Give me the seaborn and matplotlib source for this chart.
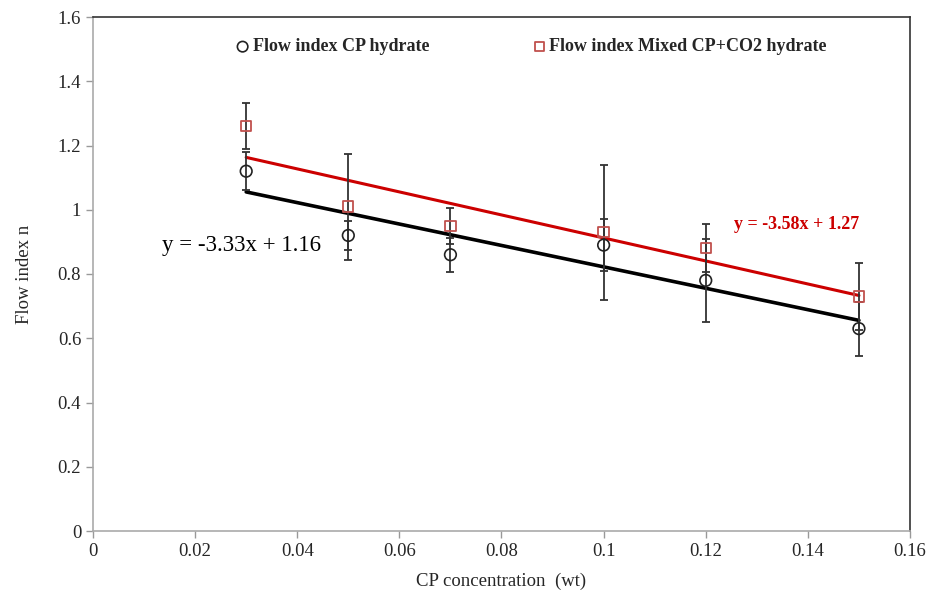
import numpy as np
import pandas as pd
import matplotlib
matplotlib.use("Agg")
import matplotlib.pyplot as plt
import seaborn as sns

# Data
conc = [0.03, 0.05, 0.07, 0.10, 0.12, 0.15]
n_cp = [1.12, 0.92, 0.86, 0.89, 0.78, 0.63]
err_cp = [0.06, 0.045, 0.053, 0.08, 0.13, 0.084]
n_mix = [1.26, 1.01, 0.95, 0.93, 0.88, 0.73]
err_mix = [0.072, 0.165, 0.056, 0.21, 0.075, 0.103]
label_cp = "Flow index CP hydrate"
label_mix = "Flow index Mixed CP+CO2 hydrate"
eq_cp = "y = -3.33x + 1.16"
eq_mix = "y = -3.58x + 1.27"
x_ticks = [0, 0.02, 0.04, 0.06, 0.08, 0.1, 0.12, 0.14, 0.16]
x_ticklabels = ["0", "0.02", "0.04", "0.06", "0.08", "0.1", "0.12", "0.14", "0.16"]
y_ticks = [0, 0.2, 0.4, 0.6, 0.8, 1, 1.2, 1.4, 1.6]
y_ticklabels = ["0", "0.2", "0.4", "0.6", "0.8", "1", "1.2", "1.4", "1.6"]

df_cp = pd.DataFrame({"x": conc, "y": n_cp})
df_mix = pd.DataFrame({"x": conc, "y": n_mix})

sns.set_style("white")
plt.rcParams["font.family"] = ["Liberation Serif", "DejaVu Serif"]

fig = plt.figure(figsize=(9.29, 5.96), dpi=100)
ax = fig.add_axes([93/929, 1 - 531/596, (910-93)/929, (531-17)/596])

red = "#cc0000"
mred = "#c0504d"

# Trend lines
sns.regplot(data=df_cp, x="x", y="y", ax=ax, scatter=False, ci=None,
            line_kws=dict(color="black", lw=2.6, zorder=2))
sns.regplot(data=df_mix, x="x", y="y", ax=ax, scatter=False, ci=None,
            line_kws=dict(color=red, lw=2.2, zorder=2))

# Error bars
ax.errorbar(conc, n_mix, yerr=err_mix, fmt="none", ecolor="#333333",
            elinewidth=1.3, capsize=3, capthick=1.3, zorder=3)
ax.errorbar(conc, n_cp, yerr=err_cp, fmt="none", ecolor="#333333",
            elinewidth=1.3, capsize=3, capthick=1.3, zorder=3)

# Markers
sns.scatterplot(data=df_cp, x="x", y="y", ax=ax, marker="o", s=70,
                facecolor="none", edgecolor="#222222", linewidth=1.2,
                zorder=4, label=label_cp)
sns.scatterplot(data=df_mix, x="x", y="y", ax=ax, marker="s", s=55,
                facecolor="none", edgecolor=mred, linewidth=1.3,
                zorder=4, label=label_mix)

ax.set_xlim(0, 0.16)
ax.set_ylim(0, 1.6)
ax.set_xticks(x_ticks)
ax.set_xticklabels(x_ticklabels)
ax.set_yticks(y_ticks)
ax.set_yticklabels(y_ticklabels)
ax.tick_params(axis="both", labelsize=13.5, direction="out", length=5,
               width=1, color="#999999", bottom=True, left=True)
ax.tick_params(axis="x", pad=4)
ax.set_xlabel("CP concentration  (wt)", fontsize=13.5, labelpad=9)
ax.set_ylabel("Flow index n", fontsize=13.5, labelpad=18)

for side in ["left", "bottom"]:
    ax.spines[side].set_color("#aaaaaa")
    ax.spines[side].set_linewidth(1.2)
for side in ["top", "right"]:
    ax.spines[side].set_color("#333333")
    ax.spines[side].set_linewidth(1.2)

# Equations
ax.text(0.0136, 0.89, eq_cp, fontsize=16.5, color="black", va="center", ha="left")
ax.text(0.1255, 0.955, eq_mix, fontsize=13, color=red, fontweight="bold",
        va="center", ha="left")

leg = ax.legend(loc="upper center", bbox_to_anchor=(0.535, 0.99), ncol=2,
                frameon=False, prop=dict(size=13, weight="bold"),
                handletextpad=0.05, columnspacing=5.6, handlelength=1.0,
                markerscale=0.9)

fig.savefig("out.png", dpi=100)
